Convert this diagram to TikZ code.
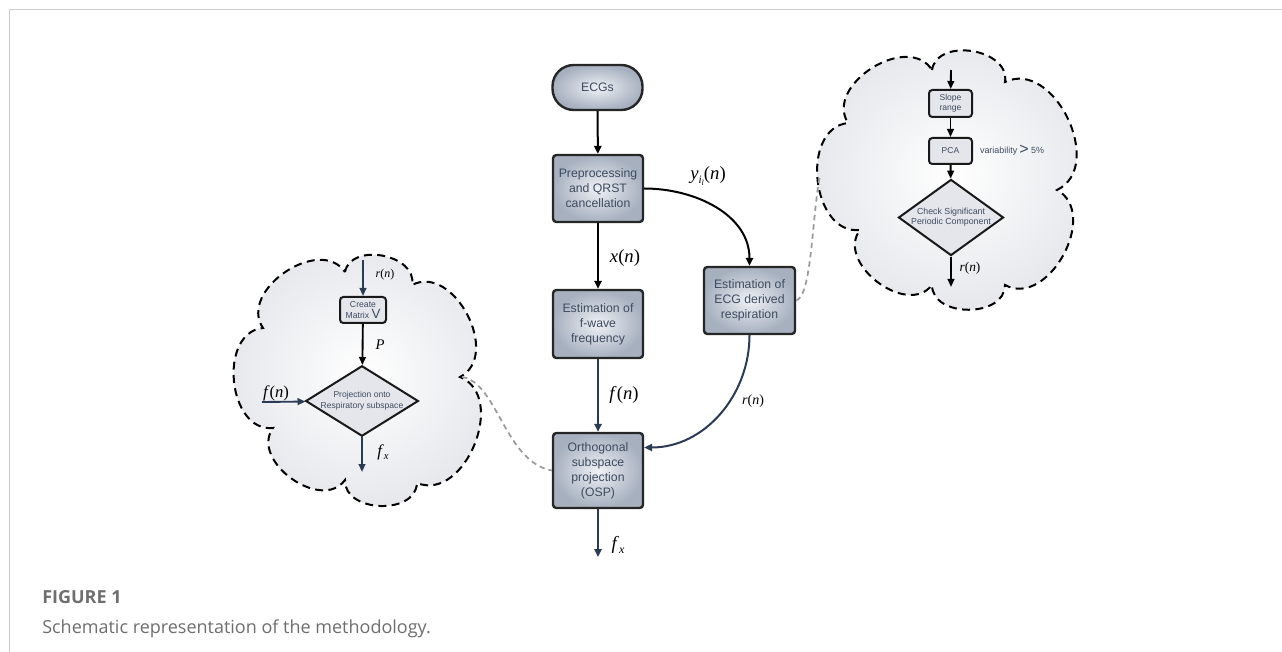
\documentclass[tikz,border=0pt]{standalone}
\usepackage{fontspec}
\setmainfont{Liberation Sans}
\newfontfamily\tms{Liberation Serif}
\newfontfamily\capfont{Open Sans}
\usetikzlibrary{arrows.meta,shapes.geometric,calc}
\definecolor{txt}{HTML}{3D4B60}
\definecolor{navy}{HTML}{2B3A55}
\definecolor{framegray}{HTML}{CCCCCC}
\definecolor{capgray}{HTML}{6E6E6E}
\definecolor{boxin}{HTML}{EFF1F5}
\definecolor{boxout}{HTML}{A6B0BF}
\definecolor{cloudout}{HTML}{E4E6EA}
\definecolor{smallfill}{HTML}{E4E6EB}
\definecolor{dashgray}{HTML}{9A9A9A}
\newcommand\fsz[2]{\fontsize{#1}{#2}\selectfont}
\newcommand\mfun[3]{{\fsz{#1}{#1}\tms\textit{#2}(\textit{#3})}}
\tikzset{
  mainbox/.style={draw=black!85, line width=1.8pt, rounded corners=2.5pt,
    shading=radial, inner color=boxin, outer color=boxout,
    minimum width=67.5pt, inner sep=0pt, align=center, text=txt,
    font=\fsz{9.2}{11.2}},
  smallbox/.style={draw=black!90, line width=1.5pt, rounded corners=2.5pt,
    fill=smallfill, minimum width=32.25pt, inner sep=0pt, align=center,
    text=txt, font=\fsz{6.4}{7.6}},
  decision/.style={draw=black!90, line width=1.5pt, shape=diamond,
    fill=smallfill, inner sep=0pt, align=center, text=txt},
  cloudshape/.style={draw=black, line width=1.5pt, dash pattern=on 6pt off 4pt,
    shading=radial, inner color=white, outer color=cloudout},
  arr/.style={-{Triangle[length=6pt,width=5.5pt]}, line width=1.5pt},
  sarr/.style={-{Triangle[length=6pt,width=5pt]}, line width=1.4pt},
  link/.style={draw=dashgray, line width=1.3pt, dash pattern=on 4pt off 3pt},
  lbl/.style={inner sep=0pt, text=black},
  bump/.style={bend left=90, looseness=1.16}
}
\begin{document}
\begin{tikzpicture}[x=0.75pt,y=-0.75pt]
\useasboundingbox (0,0) rectangle (1282,652);
% frame
\draw[framegray, line width=1.2pt] (9.5,652) -- (9.5,9.5) -- (1282,9.5);

% clouds
\path[cloudshape] (932,70) to[bump] (1005,82) to[bump] (1057,190) to[bump] (1005,285)
  to[bump] (932,285) to[bump] (860,230) to[bump] (848,123) to[bump] (932,70) -- cycle;
\path[cloudshape] (345,272) to[bump] (412,285) to[bump] (460,377) to[bump] (417,483)
  to[bump] (345,480) to[bump] (273,428) to[bump] (263,328) to[bump] (345,272) -- cycle;

% main flow
\node[mainbox, rounded corners=16pt, minimum height=33.75pt] (ecg) at (597.5,87.5) {ECGs};
\node[mainbox, minimum height=50.25pt] (pre) at (598,188.5) {Preprocessing\\and QRST\\cancellation};
\node[mainbox, minimum height=51pt] (fw) at (598,324) {Estimation of\\f-wave\\frequency};
\node[mainbox, minimum height=50.25pt, minimum width=68.25pt] (edr) at (749.5,300.5) {Estimation of\\ECG derived\\respiration};
\node[mainbox, minimum height=56.25pt] (osp) at (598,470.5) {Orthogonal\\subspace\\projection\\(OSP)};
\coordinate (fxout) at (598,557);

\draw[arr] (ecg) -- (pre);
\draw[arr] (pre) -- (fw);
\draw[arr] (pre.east) to[out=0,in=90] (edr.north);
\draw[arr, navy] (fw) -- (osp);
\draw[arr, navy] (edr.south) to[out=-90,in=0] ($(osp.east)+(0,-23)$);
\draw[arr, navy] (osp) -- (fxout);

\node[lbl] (ylab) at (708,176) {{\tms\fsz{14}{14}\textit{y}\raisebox{-0.45ex}{\fsz{8.5}{8.5}\textit{i}\raisebox{-0.35ex}{\fsz{6}{6}\textit{l}}}(\textit{n})}};
\node[lbl] (xlab) at (625,258) {\mfun{14}{x}{n}};
\node[lbl] (flab) at (624,395) {\mfun{14}{f}{n}};
\node[lbl] (rlab) at (753,401) {\mfun{10.5}{r}{n}};
\node[lbl] (fxlab) at (618,545) {{\tms\fsz{14}{14}\textit{f}\raisebox{-0.4ex}{\fsz{9}{9}\textit{x}}}};

% right cloud content
\coordinate (rin) at (951,70);
\coordinate (rout) at (951,287);
\node[smallbox, minimum height=20.25pt] (slope) at (950.5,103.5) {Slope\\range};
\node[smallbox, minimum height=19.5pt] (pca) at (950.5,151) {PCA};
\node[decision, minimum width=73.5pt, minimum height=53.25pt, shape aspect=1.38,
  font=\fsz{6.6}{7.6}] (chk) at (951,217.5) {Check Significant\\Periodic Component};
\draw[sarr] (rin) -- (slope);
\draw[sarr] (slope) -- (pca);
\draw[sarr] (pca) -- (chk);
\draw[sarr] (chk) -- (rout);
\node[lbl, text=txt] (var) at (1012,150) {{\fsz{6.7}{8}variability}\,{\fsz{12}{12}\raisebox{-0.15ex}{>}}\,{\fsz{6.7}{8}5\%}};
\node[lbl] (rlab2) at (970,268) {\mfun{10}{r}{n}};

% left cloud content
\coordinate (lin) at (363,260);
\coordinate (lfin) at (262,402);
\coordinate (lout) at (362,472);
\node[smallbox, minimum width=34.5pt, minimum height=19.5pt, font=\fsz{6.5}{8}] (cm) at (363,310) {Create\\Matrix {\fsz{10}{8}V}};
\node[decision, minimum width=82.5pt, minimum height=51pt, shape aspect=1.6,
  font=\fsz{6.4}{8.2}] (proj) at (362,401) {Projection onto\\Respiratory subspace};
\draw[sarr, navy] (lin) -- (cm);
\draw[sarr] (cm) -- (proj);
\draw[sarr, navy] (lfin) -- (proj);
\draw[sarr, navy] (proj) -- (lout);
\node[lbl] (rlab3) at (385,275) {\mfun{9}{r}{n}};
\node[lbl] (plab) at (380,345) {{\tms\fsz{11}{11}\textit{P}}};
\node[lbl] (flab2) at (276,393) {\mfun{12.5}{f}{n}};
\node[lbl] (fxlab2) at (383,452) {{\tms\fsz{12.5}{12.5}\textit{f}\raisebox{-0.4ex}{\fsz{8}{8}\textit{x}}}};

% dashed links
\coordinate (rc) at (820,175);
\coordinate (lc) at (462,377);
\draw[link] (edr.east) .. controls (812,296) and (812,215) .. (rc);
\draw[link] (lc) .. controls (497,382) and (505,462) .. (osp.west);

% caption
\node[anchor=base west, inner sep=0pt, text=capgray, font=\capfont\bfseries\fsz{13.5}{16}] (figno) at (42,603) {FIGURE 1};
\node[anchor=base west, inner sep=0pt, text=capgray, font=\capfont\fsz{13.5}{16}] (figcap) at (42,633) {Schematic representation of the methodology.};
\end{tikzpicture}
\end{document}
